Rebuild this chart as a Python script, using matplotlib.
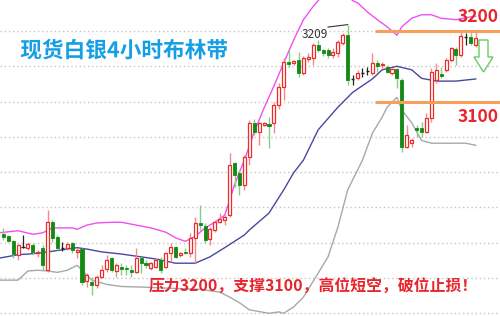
import matplotlib
matplotlib.use("Agg")
from matplotlib import pyplot as plt
from matplotlib.patches import Polygon
import matplotlib.patheffects as pe

plt.rcParams['font.family'] = ['Noto Sans CJK SC', 'DejaVu Sans']

# 4h candles (price)
opens = [2912, 2910, 2902, 2883, 2894, 2892, 2897, 2885, 2892, 2861,
         2929, 2908, 2892, 2892, 2900, 2887, 2891, 2846, 2844, 2840,
         2851, 2863, 2878, 2860, 2865, 2864, 2861, 2858, 2878, 2871,
         2864, 2865, 2875, 2865, 2885, 2894, 2883, 2887, 2885, 2907,
         2928, 2924, 2905, 2918, 2929, 2932, 2939, 3013, 2999, 2982,
         3021, 3070, 3057, 3067, 3068, 3070, 3095, 3121, 3156, 3155,
         3159, 3140, 3160, 3162, 3180, 3173, 3173, 3166, 3169, 3183,
         3194, 3132, 3133, 3140, 3143, 3140, 3155, 3152, 3149, 3140,
         3146, 3130, 3036, 3041, 3063, 3063, 3057, 3077, 3131, 3139,
         3145, 3159, 3174, 3166, 3191, 3191, 3180]
closes = [2908, 2902, 2884, 2897, 2894, 2898, 2887, 2887, 2868, 2929,
          2907, 2892, 2892, 2898, 2890, 2890, 2844, 2854, 2840, 2851,
          2861, 2875, 2861, 2868, 2863, 2863, 2858, 2878, 2871, 2868,
          2871, 2875, 2861, 2885, 2894, 2880, 2885, 2886, 2907, 2928,
          2925, 2904, 2919, 2929, 2933, 2936, 3010, 2996, 2982, 3021,
          3070, 3057, 3070, 3069, 3066, 3095, 3121, 3156, 3153, 3157,
          3140, 3162, 3163, 3180, 3173, 3169, 3166, 3170, 3184, 3194,
          3130, 3132, 3140, 3140, 3143, 3155, 3150, 3153, 3142, 3146,
          3133, 3036, 3053, 3045, 3060, 3057, 3077, 3142, 3145, 3136,
          3159, 3176, 3166, 3193, 3191, 3183, 3190]
highs = [2921, 2911, 2904, 2898, 2911, 2901, 2900, 2890, 2897, 2946,
         2932, 2911, 2901, 2901, 2901, 2892, 2892, 2857, 2851, 2854,
         2868, 2883, 2880, 2871, 2871, 2868, 2868, 2892, 2880, 2875,
         2873, 2878, 2880, 2887, 2900, 2895, 2887, 2892, 2914, 2936,
         2953, 2928, 2922, 2932, 2942, 2939, 3027, 3014, 3003, 3024,
         3074, 3075, 3071, 3071, 3078, 3099, 3126, 3162, 3173, 3159,
         3170, 3165, 3169, 3183, 3187, 3175, 3176, 3176, 3187, 3197,
         3209, 3138, 3145, 3147, 3149, 3169, 3159, 3156, 3152, 3147,
         3147, 3133, 3067, 3048, 3067, 3071, 3084, 3148, 3155, 3149,
         3162, 3177, 3177, 3201, 3197, 3199, 3199]
lows = [2904, 2901, 2878, 2875, 2892, 2890, 2884, 2880, 2861, 2858,
        2901, 2890, 2888, 2890, 2885, 2878, 2840, 2837, 2826, 2836,
        2850, 2858, 2858, 2851, 2854, 2854, 2851, 2857, 2857, 2864,
        2861, 2864, 2857, 2864, 2873, 2878, 2880, 2884, 2880, 2871,
        2918, 2900, 2897, 2915, 2928, 2925, 2936, 2979, 2968, 2975,
        3010, 3053, 3038, 3065, 3034, 3055, 3089, 3102, 3149, 3152,
        3135, 3138, 3156, 3152, 3170, 3165, 3162, 3162, 3163, 3180,
        3123, 3123, 3130, 3135, 3137, 3138, 3142, 3148, 3140, 3138,
        3119, 3029, 3034, 3036, 3050, 3050, 3055, 3071, 3126, 3133,
        3142, 3156, 3152, 3163, 3180, 3180, 3177]

# Bollinger bands (candle index, price)
upper_idx = [-1, 3, 6, 8, 10, 14, 15, 17, 19, 22, 24, 27, 30, 33, 35, 37, 39,
             41, 43, 45, 46, 47, 48, 49, 51, 53, 55, 57, 59, 61, 63, 65, 67,
             69, 71, 72, 74, 76, 78, 80, 81, 83, 85, 87, 89, 92, 95, 96]
upper = [2914, 2917, 2912, 2914, 2921, 2921, 2919, 2925, 2928, 2929, 2929,
         2925, 2921, 2915, 2907, 2902, 2909, 2921, 2929, 2939, 2960, 2982,
         3000, 3017, 3057, 3091, 3122, 3155, 3187, 3216, 3235, 3251, 3262,
         3258, 3243, 3240, 3227, 3216, 3206, 3194, 3206, 3218, 3223, 3223,
         3218, 3216, 3220, 3221]
mid_idx = [-1, 3, 7, 12, 15, 17, 20, 24, 28, 31, 35, 39, 42, 45, 49, 50, 54,
           57, 59, 61, 64, 68, 71, 75, 77, 80, 83, 85, 88, 92, 96]
mid = [2878, 2883, 2885, 2890, 2893, 2891, 2887, 2884, 2880, 2877, 2871,
       2871, 2880, 2893, 2911, 2918, 2942, 2975, 2999, 3017, 3060, 3092,
       3113, 3132, 3145, 3150, 3145, 3133, 3129, 3129, 3132]
lower_idx = [-1, 3, 5, 7, 9, 11, 13, 15, 16, 17, 18, 21, 24, 29, 32, 40, 44,
             46, 48, 50, 54, 56, 57, 59, 61, 64, 66, 68, 70, 73, 75, 77, 78,
             80, 81, 83, 85, 87, 91, 94, 96]
lower = [2847, 2847, 2860, 2861, 2860, 2858, 2861, 2868, 2861, 2854, 2847,
         2841, 2838, 2837, 2836, 2834, 2830, 2823, 2815, 2805, 2800, 2802,
         2800, 2809, 2823, 2857, 2880, 2922, 2975, 3017, 3055, 3078, 3092,
         3106, 3088, 3070, 3045, 3041, 3041, 3041, 3038]

grid_levels = [2800, 2850, 2900, 2950, 3000, 3050, 3100, 3150, 3200]
resistance = 3200
support = 3100
peak = 3209

title = "现货白银4小时布林带"
note = "压力3200，支撑3100，高位短空，破位止损！"

RED = '#ee2a2a'
GREEN = '#138a13'

fig = plt.figure(figsize=(5, 3.16), dpi=100)
ax = fig.add_axes([0, 0, 1, 1])
ax.set_xlim(-0.67, 100.95)
ax.set_ylim(2796.2, 3243.9)
ax.axis('off')

for lv in grid_levels:
    ax.axhline(lv, color='#c4c4c4', lw=1, ls=(0, (1, 2)), zorder=0)

ax.plot(upper_idx, upper, color='#f050f0', lw=1, zorder=1)
ax.plot(mid_idx, mid, color='#4848a0', lw=1, zorder=1)
ax.plot(lower_idx, lower, color='#a8a8a8', lw=1, zorder=1)

w = 0.62
for i, (o, c, h, l) in enumerate(zip(opens, closes, highs, lows)):
    if c > o:
        ax.vlines(i, l, h, color='#f38a8a', lw=1, zorder=2)
        ax.bar(i, c - o, w, bottom=o, facecolor='white', edgecolor=RED,
               lw=0.9, zorder=3)
    elif c < o:
        ax.vlines(i, l, h, color='#88cc88', lw=1, zorder=2)
        ax.bar(i, o - c, w, bottom=c, facecolor=GREEN, edgecolor=GREEN,
               lw=0.6, zorder=3)
    else:
        ax.vlines(i, l, h, color='#222222', lw=0.9, zorder=2)
        ax.hlines(o, i - w / 2, i + w / 2, color='#222222', lw=1, zorder=3)

# support / resistance lines
ax.hlines([resistance, support], 75.5, 101, color='#f7a05a', lw=2.2, zorder=4)
ax.text(0.956, 0.947, str(resistance), transform=ax.transAxes, color='#e8242c',
        fontsize=12.5, fontweight='bold', ha='center', va='center', zorder=5)
ax.text(0.956, 0.630, str(support), transform=ax.transAxes, color='#e8242c',
        fontsize=12.5, fontweight='bold', ha='center', va='center', zorder=5)

# peak label
ax.plot([66, 70], [3205.6, peak], color='#333333', lw=0.8, zorder=4)
ax.text(0.630, 0.892, str(peak), transform=ax.transAxes, color='#333333',
        fontsize=8.5, ha='center', va='center', zorder=5)

# down arrow
arrow_px = [(479, 40), (488, 40), (488, 57), (493, 57), (483.5, 72),
            (474, 57), (479, 57)]
arrow = Polygon([(x / 500, 1 - y / 316) for x, y in arrow_px], closed=True,
                transform=ax.transAxes, facecolor='white', edgecolor='#66cc66',
                lw=1, zorder=5)
ax.add_patch(arrow)

ax.text(0.248, 0.839, title, transform=ax.transAxes, color='#149fe4',
        fontsize=15.6, fontweight='bold', ha='center', va='center', zorder=6,
        path_effects=[pe.withStroke(linewidth=3, foreground='white')])
ax.text(0.626, 0.095, note, transform=ax.transAxes, color='#e8242c',
        fontsize=11.4, fontweight='bold', ha='center', va='center', zorder=6)

fig.savefig("out.png", dpi=100)
